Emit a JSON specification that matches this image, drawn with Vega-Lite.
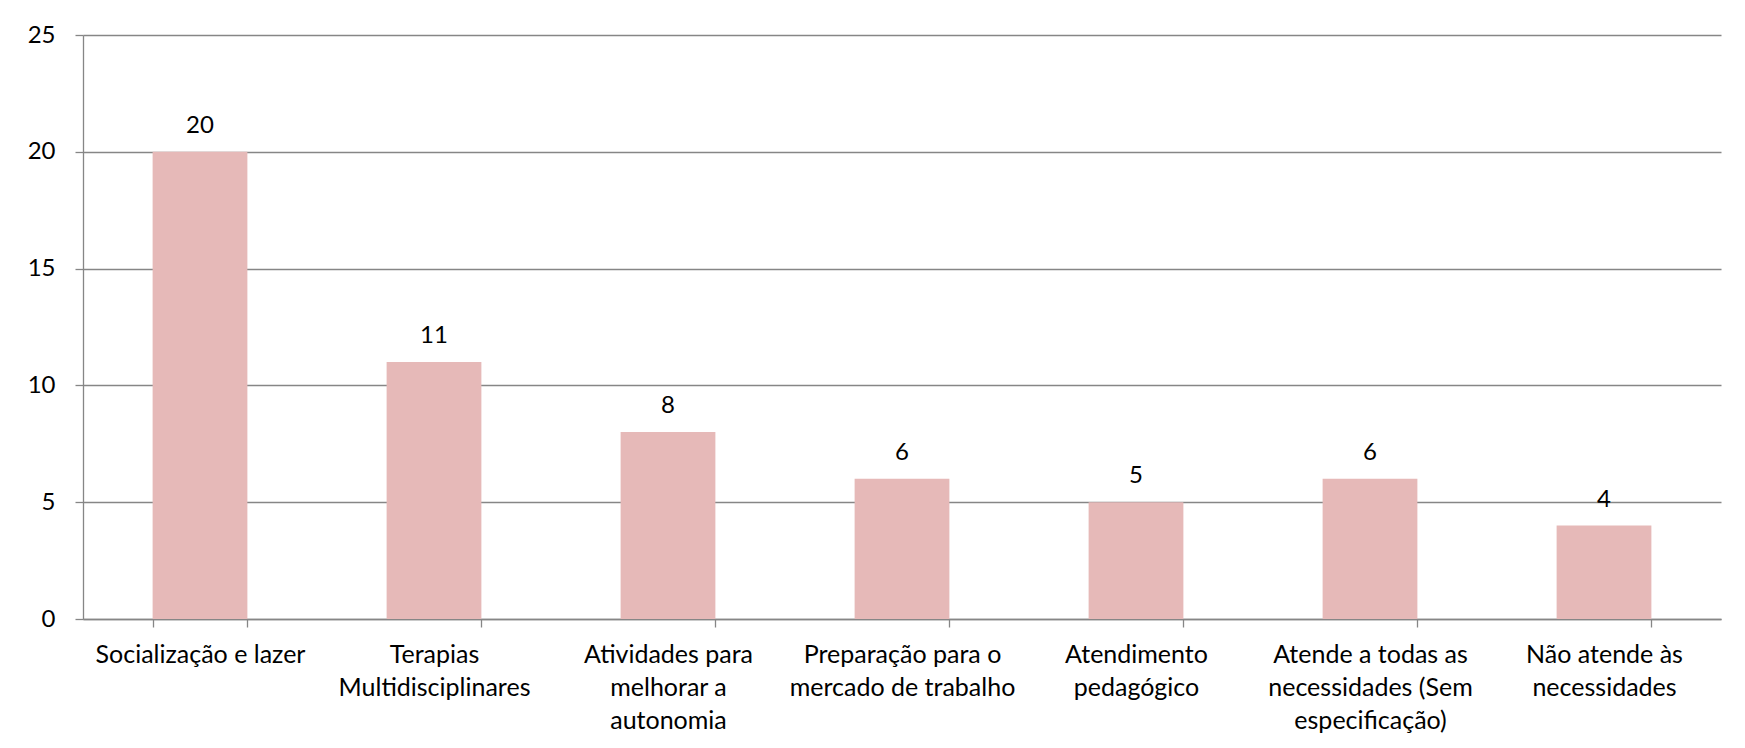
{
  "$schema": "https://vega.github.io/schema/vega-lite/v6.json",
  "width": 1638,
  "height": 584,
  "autosize": {"type": "none"},
  "padding": {"left": 83, "top": 35, "right": 24, "bottom": 129},
  "background": "white",
  "data": {
    "values": [
      {"categoria": "Socialização e lazer", "valor": 20},
      {"categoria": "Terapias Multidisciplinares", "valor": 11},
      {"categoria": "Atividades para melhorar a autonomia", "valor": 8},
      {"categoria": "Preparação para o mercado de trabalho", "valor": 6},
      {"categoria": "Atendimento pedagógico", "valor": 5},
      {"categoria": "Atende a todas as necessidades (Sem especificação)", "valor": 6},
      {"categoria": "Não atende às necessidades", "valor": 4}
    ]
  },
  "encoding": {
    "x": {
      "field": "categoria",
      "type": "nominal",
      "sort": null,
      "scale": {"paddingInner": 0.595, "paddingOuter": 0.2975},
      "axis": {
        "title": null,
        "labelAngle": 0,
        "tickBand": "extent",
        "tickSize": 8,
        "tickColor": "#868686",
        "tickWidth": 1.3,
        "domainColor": "#868686",
        "domainWidth": 1.3,
        "labelPadding": 15,
        "labelBaseline": "top",
        "labelLineHeight": 33,
        "labelFont": "Lato",
        "labelFontSize": 25,
        "labelColor": "#000000",
        "labelLimit": 0,
        "labelExpr": "datum.label == 'Terapias Multidisciplinares' ? ['Terapias', 'Multidisciplinares'] : datum.label == 'Atividades para melhorar a autonomia' ? ['Atividades para', 'melhorar a', 'autonomia'] : datum.label == 'Preparação para o mercado de trabalho' ? ['Preparação para o', 'mercado de trabalho'] : datum.label == 'Atendimento pedagógico' ? ['Atendimento', 'pedagógico'] : datum.label == 'Atende a todas as necessidades (Sem especificação)' ? ['Atende a todas as', 'necessidades (Sem', 'especificação)'] : datum.label == 'Não atende às necessidades' ? ['Não atende às', 'necessidades'] : datum.label"
      }
    },
    "y": {
      "field": "valor",
      "type": "quantitative",
      "scale": {"domain": [0, 25]},
      "axis": {
        "title": null,
        "values": [0, 5, 10, 15, 20, 25],
        "grid": true,
        "gridColor": "#868686",
        "gridWidth": 1.3,
        "domainColor": "#868686",
        "domainWidth": 1.3,
        "tickColor": "#868686",
        "tickWidth": 1.3,
        "tickSize": 8,
        "labelPadding": 20,
        "labelFont": "Lato",
        "labelFontSize": 24,
        "labelColor": "#000000"
      }
    }
  },
  "layer": [
    {"mark": {"type": "bar", "color": "#E6B9B8"}},
    {
      "mark": {"type": "text", "dy": -19, "baseline": "alphabetic", "font": "Lato", "fontSize": 24, "color": "#000000"},
      "encoding": {"text": {"field": "valor", "type": "quantitative"}}
    }
  ],
  "config": {"view": {"stroke": null}}
}
